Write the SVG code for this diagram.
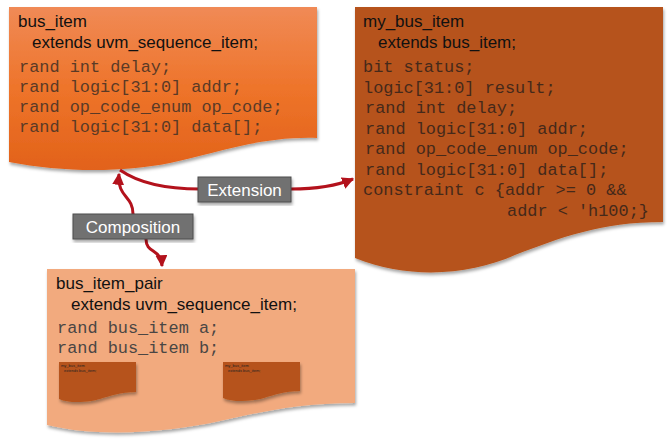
<svg xmlns="http://www.w3.org/2000/svg" width="670" height="442" viewBox="0 0 670 442">
<defs>
<style>
.hdr{font-family:"Liberation Sans",Arial,sans-serif;font-size:17px;fill:#111}
.code{font-family:"Liberation Mono","Courier New",monospace;font-size:16.9px}
.c1{fill:#5a3a26}
.c2{fill:#45291a}
.c3{fill:#4a4644}
.lbl{font-family:"Liberation Sans",Arial,sans-serif;font-size:17px;fill:#fff;text-anchor:middle}
.box{fill:#717171;stroke:#4d4d4d;stroke-width:1}
.conn{fill:none;stroke:#b3121c;stroke-width:3}
.tiny{font-family:"Liberation Sans",Arial,sans-serif;font-size:4px;fill:#222}
</style>
<linearGradient id="gOrange" x1="0" y1="0" x2="0" y2="1">
<stop offset="0" stop-color="#f08a56"/>
<stop offset="0.5" stop-color="#ee742a"/>
<stop offset="1" stop-color="#e2621a"/>
</linearGradient>
<filter id="sh" x="-5%" y="-5%" width="115%" height="120%">
<feDropShadow dx="1" dy="2.5" stdDeviation="1.5" flood-color="#000" flood-opacity="0.35"/>
</filter>
<marker id="arr" viewBox="0 0 10 10" refX="9" refY="5" markerWidth="4" markerHeight="4" orient="auto-start-reverse" markerUnits="strokeWidth">
<path d="M0,0 L10,5 L0,10 Z" fill="#b3121c"/>
</marker>
</defs>

<g id="bus_item">
<path d="M9 7 H317 V138 C260 136,210 155,170 163 C120 173,60 172,9 162 Z" fill="url(#gOrange)" filter="url(#sh)"/>
<text class="hdr" x="18" y="27">bus_item</text>
<text class="hdr" x="32" y="48">extends uvm_sequence_item;</text>
<g class="code c1">
<text x="19" y="72">rand int delay;</text>
<text x="19" y="92">rand logic[31:0] addr;</text>
<text x="19" y="112">rand op_code_enum op_code;</text>
<text x="19" y="132">rand logic[31:0] data[];</text>
</g>
</g>

<g id="my_bus_item">
<path d="M355 7 H663 V222 C600 222,560 238,515 255 C470 275,410 280,355 258 Z" fill="#b6531a" filter="url(#sh)"/>
<text class="hdr" x="363" y="27">my_bus_item</text>
<text class="hdr" x="378" y="48">extends bus_item;</text>
<g class="code c2">
<text x="363" y="72">bit status;</text>
<text x="363" y="93">logic[31:0] result;</text>
<text x="365" y="113">rand int delay;</text>
<text x="365" y="134">rand logic[31:0] addr;</text>
<text x="365" y="154">rand op_code_enum op_code;</text>
<text x="365" y="175">rand logic[31:0] data[];</text>
<text x="363" y="195">constraint c {addr &gt;= 0 &amp;&amp;</text>
<text x="507" y="216">addr &lt; 'h100;}</text>
</g>
</g>

<g id="bus_item_pair">
<path d="M47 269 H355 V403 C300 403,260 412,220 421 C170 432,100 438,47 425 Z" fill="#f2aa7e" filter="url(#sh)"/>
<text class="hdr" x="56" y="289">bus_item_pair</text>
<text class="hdr" x="71" y="310">extends uvm_sequence_item;</text>
<g class="code c3">
<text x="57" y="333">rand bus_item a;</text>
<text x="57" y="353">rand bus_item b;</text>
</g>
<g id="mini_a">
<path d="M59 362 H136 V392 C120 392,110 396,100 399 C90 402,70 404,59 399 Z" fill="#b6531a" filter="url(#sh)"/>
<text class="tiny" x="61" y="367">my_bus_item</text>
<text class="tiny" x="64" y="372">extends bus_item;</text>
</g>
<g id="mini_b">
<path d="M223 362 H300 V391 C284 391,274 395,264 398 C254 401,234 403,223 398 Z" fill="#b6531a" filter="url(#sh)"/>
<text class="tiny" x="225" y="367">my_bus_item</text>
<text class="tiny" x="228" y="372">extends bus_item;</text>
</g>
</g>

<g id="connectors">
<path class="conn" d="M120 170 C140 184,168 189,200 189 L291 189 C318 189,336 186,353 179" marker-end="url(#arr)"/>
<path class="conn" d="M119 174 C117 198,133 195,133 214 L146 239 C146 254,161 248,162 266" marker-start="url(#arr)" marker-end="url(#arr)"/>
</g>

<g id="label_extension">
<rect class="box" x="198" y="177" width="93" height="25" filter="url(#sh)"/>
<text class="lbl" x="244.5" y="195.5">Extension</text>
</g>
<g id="label_composition">
<rect class="box" x="73" y="214" width="120" height="25" filter="url(#sh)"/>
<text class="lbl" x="133" y="232.5">Composition</text>
</g>
</svg>
